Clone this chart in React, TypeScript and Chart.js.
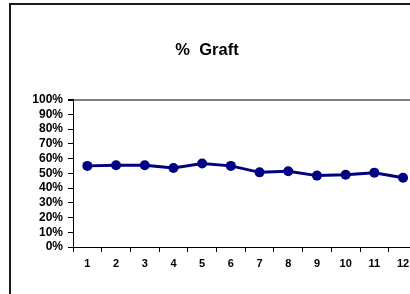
import React, { useEffect, useRef } from "react";
import { Chart, registerables } from "chart.js";

Chart.register(...registerables);

const TITLE = "%  Graft";
const categories = ["1", "2", "3", "4", "5", "6", "7", "8", "9", "10", "11", "12"];
const graftValues = [0.55, 0.554, 0.554, 0.536, 0.566, 0.55, 0.506, 0.513, 0.484, 0.49, 0.504, 0.47];
const yTickValues = [0, 0.1, 0.2, 0.3, 0.4, 0.5, 0.6, 0.7, 0.8, 0.9, 1];

const FONT = "Arial, 'Liberation Sans', sans-serif";

export default function App() {
  const ref = useRef<HTMLCanvasElement | null>(null);

  useEffect(() => {
    document.body.style.margin = "0";
    document.body.style.overflow = "hidden";
    const canvas = ref.current!;
    const titlePlugin = {
      id: "customTitle",
      afterDraw(chart: any) {
        const ctx = chart.ctx;
        ctx.save();
        ctx.font = `bold 16.5px ${FONT}`;
        ctx.fillStyle = "#000";
        ctx.textAlign = "center";
        ctx.textBaseline = "middle";
        ctx.fillText(TITLE, 207, 50);
        ctx.restore();
      },
    };
    const chart = new Chart(canvas, {
      type: "line",
      data: {
        labels: categories,
        datasets: [
          {
            data: graftValues,
            borderColor: "#000080",
            backgroundColor: "#000080",
            borderWidth: 3,
            pointRadius: 5,
            pointBackgroundColor: "#000080",
            pointBorderColor: "#000080",
            pointBorderWidth: 0,
            tension: 0,
          },
        ],
      },
      options: {
        animation: false,
        responsive: false,
        layout: { padding: { top: 99.5, right: 22.6, left: 0, bottom: 0 } },
        plugins: {
          legend: { display: false },
          title: { display: false },
          tooltip: { enabled: false },
        },
        scales: {
          x: {
            type: "category",
            offset: true,
            grid: {
              offset: true,
              drawOnChartArea: false,
              drawTicks: true,
              tickLength: 5,
              tickColor: "#000",
              color: "#000",
            },
            border: { color: "#000", width: 1 },
            ticks: {
              color: "#000",
              font: { family: FONT, size: 11, weight: "bold" },
              padding: 5,
              maxRotation: 0,
              autoSkip: false,
            },
            afterFit(scale: any) {
              scale.height = 47;
            },
          },
          y: {
            min: 0,
            max: 1,
            afterBuildTicks(scale: any) {
              scale.ticks = yTickValues.map((v) => ({ value: v }));
            },
            grid: {
              drawOnChartArea: true,
              color: (c: any) => (c.tick && c.tick.value === 1 ? "#808080" : "rgba(0,0,0,0)"),
              lineWidth: (c: any) => (c.tick && c.tick.value === 1 ? 2 : 1),
              tickColor: "#000",
              tickLength: 5,
            },
            border: { color: "#000", width: 1 },
            ticks: {
              color: "#000",
              autoSkip: false,
              font: { family: FONT, size: 12, weight: "bold", lineHeight: 1 },
              padding: 5,
              callback: (v: any) => `${Math.round(Number(v) * 100)}%`,
            },
            afterFit(scale: any) {
              scale.width = 73;
            },
          },
        },
      },
      plugins: [titlePlugin],
    } as any);
    return () => chart.destroy();
  }, []);

  return (
    <div
      style={{
        position: "fixed",
        left: 0,
        top: 0,
        width: 410,
        height: 294,
        overflow: "hidden",
        background: "#fff",
      }}
    >
      <div
        style={{
          position: "absolute",
          left: 9,
          top: 3,
          width: 600,
          height: 400,
          borderLeft: "2px solid #1a1a1a",
          borderTop: "2px solid #1a1a1a",
        }}
      />
      <canvas
        ref={ref}
        width={440}
        height={294}
        style={{ position: "absolute", left: 0, top: 0, width: 440, height: 294 }}
      />
    </div>
  );
}
